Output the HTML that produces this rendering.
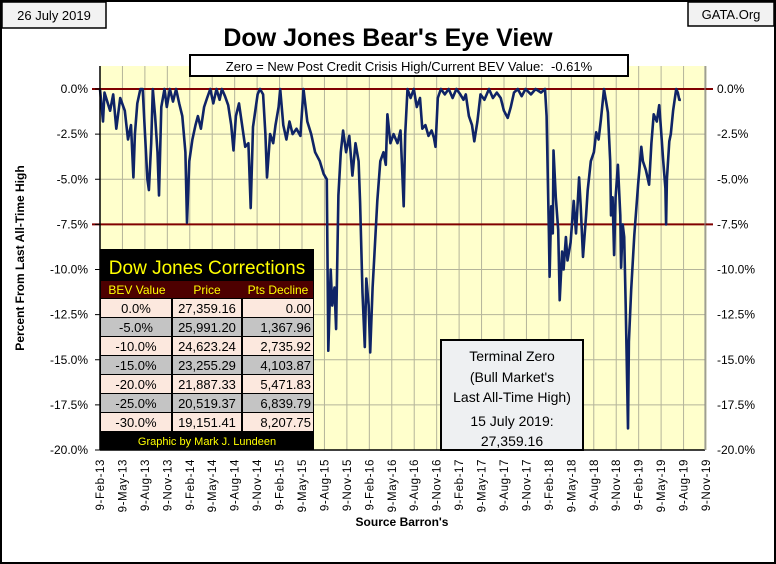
<!DOCTYPE html>
<html><head><meta charset="utf-8">
<style>
html,body{margin:0;padding:0;background:#fff}
svg{display:block;font-family:"Liberation Sans",sans-serif}
.n{font-family:"Liberation Sans Narrow","Liberation Sans",sans-serif}
</style></head>
<body>
<svg id="chart" width="776" height="564" viewBox="0 0 776 564">
  <rect x="1" y="1" width="774" height="562" fill="#fff" stroke="#000" stroke-width="2"/>
  <g>
    <rect x="2" y="2" width="104" height="26" fill="#f2f2f2" stroke="#000" stroke-width="1.5"/>
    <text x="54" y="20" font-size="13" text-anchor="middle">26 July 2019</text>
  </g>
  <g>
    <rect x="688" y="2" width="86" height="24" fill="#f2f2f2" stroke="#000" stroke-width="1.5"/>
    <text x="731" y="19" font-size="13" text-anchor="middle">GATA.Org</text>
  </g>
  <text x="388" y="46" font-size="25" font-weight="bold" text-anchor="middle">Dow Jones Bear's Eye View</text>

  <rect x="100" y="66" width="605" height="384" fill="#ffffcc"/>
  <g id="grid"></g>
  <g id="refs"></g>
  <path id="series" fill="none" stroke="#0f2466" stroke-width="2.6" stroke-linejoin="round"/>
  <line x1="100" y1="66" x2="100" y2="450" stroke="#000" stroke-width="1.5"/>
  <line x1="100" y1="450" x2="705" y2="450" stroke="#000" stroke-width="1.5"/>
  <line x1="705" y1="66" x2="705" y2="450" stroke="#888" stroke-width="1"/>
  <g id="yticks"></g>
  <g id="xticks"></g>

  <g>
    <rect x="190" y="55" width="438" height="21" fill="#fff" stroke="#000" stroke-width="2"/>
    <text x="409" y="71" font-size="13" text-anchor="middle" xml:space="preserve">Zero = New Post Credit Crisis High/Current BEV Value:  -0.61%</text>
  </g>

  <g>
    <rect x="100" y="249" width="214" height="201" fill="#000"/>
    <text x="207" y="274" font-size="19" fill="#ffff00" text-anchor="middle" class="n">Dow Jones Corrections</text>
    <rect x="101" y="281" width="212" height="17" fill="#4d0000"/>
    <text x="137" y="294" font-size="12" fill="#ffff00" text-anchor="middle" class="n">BEV Value</text>
    <text x="207" y="294" font-size="12" fill="#ffff00" text-anchor="middle" class="n">Price</text>
    <text x="278" y="294" font-size="12" fill="#ffff00" text-anchor="middle" class="n">Pts Decline</text>
    <g id="tablerows"></g>
    <text x="207" y="445" font-size="11" fill="#ffff00" text-anchor="middle" class="n">Graphic by Mark J. Lundeen</text>
  </g>

  <g>
    <rect x="441" y="340" width="142" height="110" fill="#eef0f2" stroke="#000" stroke-width="2"/>
    <text x="512" y="361" font-size="14" text-anchor="middle">Terminal Zero</text>
    <text x="512" y="382" font-size="14" text-anchor="middle">(Bull Market's</text>
    <text x="512" y="402" font-size="14" text-anchor="middle">Last All-Time High)</text>
    <text x="512" y="426" font-size="14" text-anchor="middle">15 July 2019:</text>
    <text x="512" y="446" font-size="14" text-anchor="middle">27,359.16</text>
  </g>

  <text transform="translate(24,258) rotate(-90)" font-size="12" font-weight="bold" text-anchor="middle">Percent From Last All-Time High</text>
  <text x="402" y="526" font-size="12" font-weight="bold" text-anchor="middle">Source Barron's</text>
</svg>
<script>
// months since 9-Feb-2013
const monthIdx = [0,0.4,0.6,1.35,1.76,2.18,2.7,3.32,3.74,4.15,4.46,4.67,4.98,5.4,5.71,6.02,6.33,6.54,6.85,7.06,7.37,7.68,7.89,8.2,8.62,8.93,9.34,9.76,10.17,10.59,11.0,11.42,11.63,11.94,12.35,12.77,13.08,13.49,13.91,14.32,14.74,15.15,15.57,15.99,16.3,16.71,17.13,17.54,17.85,18.17,18.58,19.0,19.41,19.83,20.14,20.45,21.07,21.38,21.8,22.11,22.32,22.73,23.15,23.46,23.87,24.08,24.5,24.91,25.33,25.74,26.26,26.78,27.2,27.71,28.23,28.75,29.38,29.89,30.31,30.52,30.83,31.04,31.35,31.56,31.87,32.18,32.49,32.9,33.32,33.74,34.15,34.57,34.77,35.08,35.4,35.6,35.91,36.12,36.43,36.64,37.06,37.47,37.89,38.2,38.41,38.82,39.24,39.76,40.17,40.59,40.79,41.1,41.52,41.94,42.35,42.77,43.08,43.49,43.91,44.32,44.63,44.84,45.15,45.57,46.09,46.61,47.13,47.64,48.16,48.58,48.89,49.31,49.72,50.03,50.45,50.86,51.38,52.0,52.52,53.04,53.56,53.98,54.5,54.91,55.33,55.84,56.36,56.88,57.61,58.23,58.96,59.48,59.69,60.0,60.1,60.31,60.52,60.62,60.93,61.24,61.45,61.76,61.97,62.28,62.49,62.9,63.32,63.63,64.04,64.25,64.56,64.98,65.19,65.6,66.02,66.33,66.64,66.95,67.37,67.57,67.89,68.2,68.3,68.51,68.72,68.92,69.23,69.55,69.65,69.86,70.07,70.27,70.58,70.69,71.0,71.41,71.62,71.93,72.35,72.56,72.97,73.39,73.7,74.01,74.42,74.74,74.94,75.26,75.57,75.67,75.77,76.09,76.29,76.6,77.02,77.23,77.43,77.64];
// BEV values (%)
const bevValues = [0,-1.8,-0.2,-1.2,-0.3,-2.2,-0.5,-1.2,-2.8,-2.0,-4.9,-2.5,-0.8,0,0,-2.5,-5.0,-5.6,-3.0,0,-1.5,-3.5,-5.9,-1.0,0,-1.0,0,-0.7,0,-0.8,-1.5,-3.5,-7.4,-4.0,-2.8,-2.0,-1.5,-2.2,-1.0,-0.5,0,-0.8,0,-0.6,0,-0.4,-0.9,-2.0,-3.4,-1.5,-0.8,-2.0,-3.2,-3.0,-6.6,-2.1,-0.3,0,-0.3,-2.5,-4.9,-2.5,-3.0,-2.0,-1.0,0,-2.0,-2.8,-1.8,-2.5,-2.2,-2.6,0,-1.8,-2.5,-3.5,-4.0,-4.7,-5.0,-14.5,-10.0,-12.0,-11.0,-13.3,-5.9,-3.5,-2.3,-3.5,-2.6,-4.8,-3.0,-4.0,-6.3,-11.3,-14.3,-10.5,-12.0,-14.6,-11.0,-9.5,-6.2,-4.0,-3.5,-4.2,-1.4,-3.0,-2.5,-3.0,-2.3,-6.5,-2.5,0,-0.5,0,-1.0,-0.5,-2.2,-2.0,-2.6,-2.3,-2.7,-3.2,-0.5,0,-0.3,0,-0.5,0,-0.3,-0.6,-0.3,-1.5,-2.0,-2.9,-1.8,-0.3,-0.6,0,-0.5,-0.2,-0.5,-1.2,-1.6,-1.0,-0.2,0,-0.4,0,-0.3,0,-0.2,0,-1.5,-8,-10.4,-6.5,-8.0,-3.4,-6.0,-7.8,-11.7,-9,-10,-8.2,-9.5,-8.5,-6.2,-8,-4.9,-6.5,-9.3,-7,-5.6,-4.0,-3.5,-2.4,-2.8,-1.7,0,-0.5,-1.3,-4,-7,-6,-9.2,-6,-4.2,-7,-9.9,-7.5,-8.2,-12,-18.8,-14,-11.1,-8.1,-7.0,-5.3,-3.2,-4.0,-4.5,-5.3,-3.0,-1.4,-1.8,-0.9,-2.0,-3.9,-5.5,-7.5,-5,-2.9,-2.5,-1.2,0,-0.2,-0.6,-0.6];
const xTickLabels = ["9-Feb-13","9-May-13","9-Aug-13","9-Nov-13","9-Feb-14","9-May-14","9-Aug-14","9-Nov-14","9-Feb-15","9-May-15","9-Aug-15","9-Nov-15","9-Feb-16","9-May-16","9-Aug-16","9-Nov-16","9-Feb-17","9-May-17","9-Aug-17","9-Nov-17","9-Feb-18","9-May-18","9-Aug-18","9-Nov-18","9-Feb-19","9-May-19","9-Aug-19","9-Nov-19"];
const yTickValues = [0,-2.5,-5,-7.5,-10,-12.5,-15,-17.5,-20];
const refLines = [0,-7.5];
const tableBev = ["0.0%","-5.0%","-10.0%","-15.0%","-20.0%","-25.0%","-30.0%"];
const tablePrice = ["27,359.16","25,991.20","24,623.24","23,255.29","21,887.33","20,519.37","19,151.41"];
const tableDecline = ["0.00","1,367.96","2,735.92","4,103.87","5,471.83","6,839.79","8,207.75"];

const NS = "http://www.w3.org/2000/svg";
const X0 = 100, X1 = 706, Y0 = 89, Y1 = 450;
const monthsSpan = (xTickLabels.length - 1) * 3;
const xs = m => X0 + (m / monthsSpan) * (X1 - X0);
const ys = v => Y0 + (v / -20) * (Y1 - Y0);
function mk(tag, attrs, parent){ const e=document.createElementNS(NS,tag); for(const k in attrs) e.setAttribute(k,attrs[k]); parent.appendChild(e); return e; }

const grid = document.getElementById('grid');
xTickLabels.forEach((l,i)=>{
  const x = xs(i*3);
  const g = mk('line',{x1:x,y1:66,x2:x,y2:450,stroke:'#b4b49a','stroke-width':1},grid);
  
  
});
yTickValues.forEach(v=>{
  const y = ys(v);
  const g = mk('line',{x1:X0,y1:y,x2:705,y2:y,stroke:'#b4b49a','stroke-width':1},grid);
  
  
});
const refs = document.getElementById('refs');
refLines.forEach(v=>{
  const y = ys(v);
  const r = mk('line',{x1:X0-8,y1:y,x2:713,y2:y,stroke:'#800000','stroke-width':2},refs);
  
  
});
const n = Math.min(monthIdx.length, bevValues.length);
let d = '';
for(let i=0;i<n;i++){ d += (i?'L':'M') + xs(monthIdx[i]).toFixed(1) + ' ' + ys(bevValues[i]).toFixed(1); }
document.getElementById('series').setAttribute('d', d);

const yt = document.getElementById('yticks');
yTickValues.forEach(v=>{
  const y = ys(v);
  const lab = v.toFixed(1) + '%';
  mk('line',{x1:X0-5,y1:y,x2:X0,y2:y,stroke:'#000'},yt);
  const t1 = mk('text',{x:88,y:y+4,'font-size':12,'text-anchor':'end'},yt);
  t1.textContent = lab;
  
  
  const t2 = mk('text',{x:717,y:y+4,'font-size':12,'text-anchor':'start'},yt);
  t2.textContent = lab;
  
  
});
const xt = document.getElementById('xticks');
xTickLabels.forEach((l,i)=>{
  const x = xs(i*3);
  const t = mk('text',{transform:`translate(${x+4},459) rotate(-90)`,'font-size':11.5,'text-anchor':'end','letter-spacing':'0.6'},xt);
  t.textContent = l;
  
  
});
const tr = document.getElementById('tablerows');
tableBev.forEach((b,i)=>{
  const y = 299 + i*19;
  mk('rect',{x:101,y:y,width:70,height:18,fill:i%2?'#c4c4c4':'#fce8de'},tr);
  mk('rect',{x:173,y:y,width:68,height:18,fill:i%2?'#c4c4c4':'#fce8de'},tr);
  mk('rect',{x:243,y:y,width:70,height:18,fill:i%2?'#c4c4c4':'#fce8de'},tr);
  const a = mk('text',{x:136,y:y+14,'font-size':13,'text-anchor':'middle',class:'n'},tr); a.textContent=b;
  
  
  const p = mk('text',{x:207,y:y+14,'font-size':13,'text-anchor':'middle',class:'n'},tr); p.textContent=tablePrice[i];
  
  
  const q = mk('text',{x:311,y:y+14,'font-size':13,'text-anchor':'end',class:'n'},tr); q.textContent=tableDecline[i];
  
  
});
</script>
</body></html>
